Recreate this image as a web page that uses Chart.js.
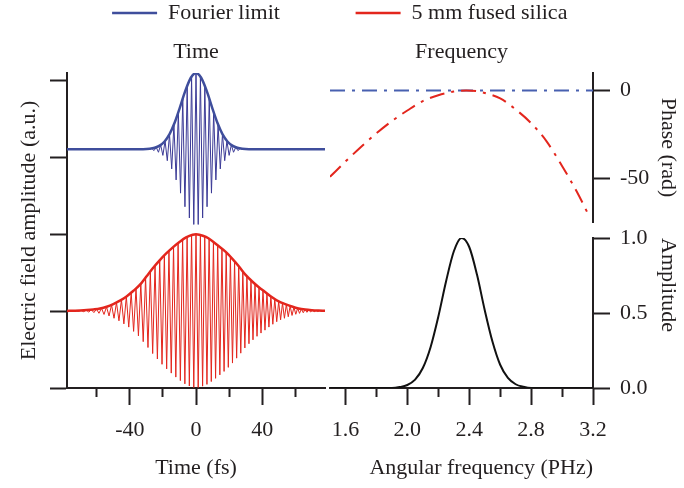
<!DOCTYPE html>
<html>
<head>
<meta charset="utf-8">
<script src="https://cdn.jsdelivr.net/npm/chart.js@4.4.0/dist/chart.umd.min.js"></script>
<style>
html, body { margin: 0; padding: 0; background: #ffffff; }
#wrap { position: relative; width: 684px; height: 488px; overflow: hidden; background: #ffffff; }
canvas { position: absolute; left: 0; top: 0; }
</style>
</head>
<body>
<div id="wrap">
  <canvas id="cTime" width="684" height="488"></canvas>
  <canvas id="cPhase" width="684" height="488"></canvas>
  <canvas id="cSpec" width="684" height="488"></canvas>
</div>
<script>
// ---------------- data ----------------
// tick values
const timeTicks = [-60, -40, -20, 0, 20, 40, 60];
const timeLabelTicks = [-40, 0, 40];
const leftTicks = [0, 1, 2, 3, 4];
const freqTicks = [1.6, 1.8, 2.0, 2.2, 2.4, 2.6, 2.8, 3.0, 3.2];
const freqLabelTicks = [1.6, 2.0, 2.4, 2.8, 3.2];
const phaseTicks = [-50, 0];
const specTicks = [0, 0.5, 1.0];

// Fourier-limited pulse: envelope (fs, a.u.)
const blueEnvT = [-78, -32, -28, -25, -22, -19, -16, -13, -10, -7, -4, -2, 0, 2, 4, 7, 10, 13, 16, 19, 22, 25, 28, 32, 78];
const blueEnvV = [0, 0.002, 0.007, 0.020, 0.048, 0.103, 0.200, 0.345, 0.533, 0.735, 0.904, 0.975, 1, 0.975, 0.904, 0.735, 0.533, 0.345, 0.200, 0.103, 0.048, 0.020, 0.007, 0.002, 0];
// Fourier-limited pulse: field half-cycle extremes
const blueFieldT = [-78, -28, -26.70, -25.37, -24.03, -22.70, -21.36, -20.03, -18.69, -17.36, -16.02, -14.69, -13.35, -12.02, -10.68, -9.35, -8.01, -6.68, -5.34, -4.01, -2.67, -1.34, 0, 1.34, 2.67, 4.01, 5.34, 6.68, 8.01, 9.35, 10.68, 12.02, 13.35, 14.69, 16.02, 17.36, 18.69, 20.03, 21.36, 22.70, 24.03, 25.37, 26.70, 28, 78];
const blueFieldV = [0, 0, 0.011, -0.017, 0.026, -0.039, 0.057, -0.080, 0.111, -0.150, 0.199, -0.258, 0.326, -0.403, 0.488, -0.577, 0.668, -0.756, 0.836, -0.904, 0.956, -0.989, 1, -0.989, 0.956, -0.904, 0.836, -0.756, 0.668, -0.577, 0.488, -0.403, 0.326, -0.258, 0.199, -0.150, 0.111, -0.080, 0.057, -0.039, 0.026, -0.017, 0.011, 0, 0];

// 5 mm fused silica pulse: envelope
const redEnvT = [-78, -74, -70, -66, -62, -58, -54, -50, -46, -42, -38, -34, -30, -26, -22, -18, -14, -10, -6, -2, 0, 2, 6, 10, 14, 18, 22, 26, 30, 34, 38, 42, 46, 50, 54, 58, 62, 66, 70, 74, 78];
const redEnvV = [0.0015, 0.004, 0.007, 0.012, 0.02, 0.032, 0.055, 0.09, 0.135, 0.19, 0.26, 0.34, 0.45, 0.56, 0.66, 0.75, 0.83, 0.90, 0.96, 0.995, 1.0, 0.995, 0.965, 0.91, 0.84, 0.77, 0.68, 0.58, 0.47, 0.385, 0.31, 0.245, 0.18, 0.125, 0.09, 0.058, 0.033, 0.019, 0.011, 0.006, 0.003];
// 5 mm fused silica pulse: chirped field half-cycle extremes
const redFieldT = [-78, -77.41, -75.82, -74.23, -72.65, -71.08, -69.51, -67.94, -66.38, -64.83, -63.28, -61.74, -60.20, -58.67, -57.14, -55.61, -54.10, -52.58, -51.07, -49.57, -48.07, -46.58, -45.09, -43.61, -42.13, -40.66, -39.19, -37.72, -36.27, -34.81, -33.36, -31.92, -30.48, -29.04, -27.61, -26.19, -24.77, -23.35, -21.94, -20.54, -19.14, -17.74, -16.35, -14.96, -13.58, -12.20, -10.82, -9.46, -8.09, -6.73, -5.38, -4.03, -2.68, -1.34, 0, 1.33, 2.66, 3.99, 5.30, 6.62, 7.93, 9.24, 10.54, 11.84, 13.13, 14.42, 15.70, 16.98, 18.26, 19.53, 20.80, 22.06, 23.32, 24.58, 25.83, 27.07, 28.32, 29.55, 30.79, 32.02, 33.24, 34.46, 35.68, 36.90, 38.11, 39.31, 40.51, 41.71, 42.90, 44.09, 45.28, 46.46, 47.64, 48.81, 49.98, 51.15, 52.31, 53.47, 54.62, 55.78, 56.92, 58.07, 59.20, 60.34, 61.47, 62.60, 63.73, 64.85, 65.96, 67.08, 68.19, 69.29, 70.40, 71.50, 72.59, 73.68, 74.77, 75.86, 76.94, 77.90, 78];
const redFieldV = [0, -0.002, 0.003, -0.004, 0.005, -0.006, 0.007, -0.009, 0.011, -0.014, 0.017, -0.021, 0.025, -0.030, 0.037, -0.045, 0.054, -0.065, 0.080, -0.095, 0.11, -0.128, 0.147, -0.168, 0.188, -0.21, 0.24, -0.266, 0.295, -0.324, 0.358, -0.40, 0.437, -0.476, 0.516, -0.555, 0.59, -0.626, 0.661, -0.695, 0.726, -0.755, 0.783, -0.81, 0.838, -0.862, 0.886, -0.908, 0.93, -0.95, 0.965, -0.978, 0.99, -0.997, 1.0, -0.997, 0.99, -0.98, 0.97, -0.957, 0.94, -0.92, 0.90, -0.878, 0.855, -0.833, 0.81, -0.788, 0.764, -0.735, 0.707, -0.679, 0.647, -0.615, 0.584, -0.55, 0.516, -0.482, 0.453, -0.427, 0.40, -0.376, 0.353, -0.33, 0.308, -0.288, 0.269, -0.25, 0.23, -0.21, 0.19, -0.173, 0.157, -0.14, 0.125, -0.115, 0.105, -0.095, 0.085, -0.075, 0.066, -0.058, 0.05, -0.043, 0.036, -0.031, 0.027, -0.023, 0.019, -0.017, 0.015, -0.012, 0.010, -0.009, 0.008, -0.007, 0.006, -0.005, 0.004, -0.003, 0];

// Spectral phase (rad) vs angular frequency (PHz)
const phaseFreqFL = [1.5, 3.2];
const phaseFL = [0, 0];
const phaseFreqFS = [1.5, 1.6, 1.7, 1.8, 1.9, 2.0, 2.1, 2.2, 2.3, 2.38, 2.45, 2.5, 2.6, 2.7, 2.8, 2.9, 3.0, 3.1, 3.18];
const phaseFS = [-49.2, -40.5, -32.2, -24.4, -17.4, -11.4, -6.0, -2.7, -0.6, 0, -0.4, -1.4, -4.5, -10.8, -18.6, -29.0, -43.0, -58.5, -72.5];

// Spectral amplitude
const specFreq = [1.5, 1.6, 1.7, 1.8, 1.9, 1.95, 2.0, 2.05, 2.1, 2.15, 2.2, 2.25, 2.3, 2.35, 2.4, 2.45, 2.5, 2.55, 2.6, 2.65, 2.7, 2.75, 2.8, 2.9, 3.0, 3.1, 3.2];
const specAmp = [0, 0, 0, 0, 0, 0.006, 0.02, 0.056, 0.133, 0.272, 0.475, 0.71, 0.91, 1.0, 0.94, 0.756, 0.52, 0.31, 0.155, 0.067, 0.025, 0.008, 0, 0, 0, 0, 0];

// ---------------- styling ----------------
const INK = '#231f20';
const BLUE = '#3b3a96';
const BLUE_ENV = '#3f4e9c';
const RED = '#e3261d';
const PHASE_BLUE = '#4860b0';
const DASHDOT = [15, 7, 3, 7];

Chart.defaults.font.family = '"Liberation Serif", "DejaVu Serif", serif';
Chart.defaults.font.size = 22;
Chart.defaults.color = INK;
Chart.defaults.animation = false;

function pts(xs, ys) {
  const n = Math.min(xs.length, ys.length);
  const out = [];
  for (let i = 0; i < n; i++) out.push({x: xs[i], y: ys[i]});
  return out;
}
function setTicks(values) { return scale => { scale.ticks = values.map(v => ({value: v})); }; }
function isIn(list, v) { return list.some(u => Math.abs(u - v) < 1e-6); }
const border = {display: true, color: INK, width: 2};
function gridOpts(majorList) {
  return {
    display: true, drawOnChartArea: false, drawTicks: true,
    tickLength: 17, tickWidth: 2, tickColor: INK,
    tickBorderDash: majorList
      ? (ctx => (ctx.tick && isIn(majorList, ctx.tick.value)) ? [] : [8, 60])
      : []
  };
}
function legendOpts() {
  return {
    display: true, position: 'top', fullSize: false, weight: 3000,
    labels: {
      usePointStyle: true, pointStyle: 'line', pointStyleWidth: 45, padding: 2,
      font: {size: 22}, color: INK,
      generateLabels: chart => Chart.defaults.plugins.legend.labels.generateLabels(chart)
        .filter(it => it.datasetIndex === 0)
        .map(it => Object.assign(it, {lineWidth: 2.5, lineDash: [], pointStyle: 'line'}))
    }
  };
}
function titleOpts(text) {
  return {display: true, text, position: 'top', fullSize: false, color: INK,
          font: {size: 22, weight: 'normal'}, padding: {top: 5, bottom: 7.6}};
}

// ---------------- left: time domain ----------------
new Chart(document.getElementById('cTime'), {
  type: 'line',
  data: {datasets: [
    {label: 'Fourier limit', data: pts(blueEnvT, blueEnvV), yAxisID: 'yBlue', borderColor: BLUE_ENV, borderWidth: 2.5, cubicInterpolationMode: 'monotone'},
    {label: '5 mm fused silica', data: pts(redEnvT, redEnvV), yAxisID: 'yRed', borderColor: RED, borderWidth: 2.5, cubicInterpolationMode: 'monotone'},
    {label: 'Fourier limit field', data: pts(blueFieldT, blueFieldV), yAxisID: 'yBlue', borderColor: BLUE, borderWidth: 1, tension: 0},
    {label: '5 mm fused silica field', data: pts(redFieldT, redFieldV), yAxisID: 'yRed', borderColor: RED, borderWidth: 1, tension: 0}
  ]},
  options: {
    responsive: false, animation: false,
    layout: {padding: {left: 0, right: 359, top: 0, bottom: 0}},
    elements: {point: {radius: 0}, line: {fill: false}},
    plugins: {legend: legendOpts(), title: titleOpts('Time'), tooltip: {enabled: false}},
    scales: {
      x: {type: 'linear', position: 'bottom', min: -78, max: 78,
          afterBuildTicks: setTicks(timeTicks), afterFit: s => { s.height = 100; },
          border, grid: gridOpts(timeLabelTicks),
          ticks: {padding: 12, autoSkip: false, maxRotation: 0, color: INK,
                  callback: v => isIn(timeLabelTicks, v) ? String(v) : ''},
          title: {display: true, text: 'Time (fs)', color: INK, padding: {top: 0, bottom: 7}}},
      y: {type: 'linear', position: 'left', min: 0, max: 4.091,
          afterBuildTicks: setTicks(leftTicks), afterFit: s => { s.width = 67; },
          border, grid: gridOpts(null), ticks: {display: false},
          title: {display: true, text: 'Electric field amplitude (a.u.)', color: INK, padding: {top: 16, bottom: 0}}},
      yBlue: {type: 'linear', display: false, min: -3.141, max: 1.004},
      yRed: {type: 'linear', display: false, min: -1.004, max: 3.103}
    }
  }
});

// ---------------- right top: spectral phase ----------------
new Chart(document.getElementById('cPhase'), {
  type: 'line',
  data: {datasets: [
    {label: '5 mm fused silica', data: pts(phaseFreqFS, phaseFS), borderColor: RED, borderWidth: 2, borderDash: DASHDOT, cubicInterpolationMode: 'monotone'},
    {label: 'Fourier limit', data: pts(phaseFreqFL, phaseFL), borderColor: PHASE_BLUE, borderWidth: 2, borderDash: DASHDOT}
  ]},
  options: {
    responsive: false, animation: false,
    layout: {padding: {left: 330, right: 0, top: 0, bottom: 266}},
    elements: {point: {radius: 0}, line: {fill: false}},
    plugins: {legend: legendOpts(), title: titleOpts('Frequency'), tooltip: {enabled: false}},
    scales: {
      x: {type: 'linear', display: false, min: 1.5, max: 3.2},
      y: {type: 'linear', position: 'right', min: -75, max: 10,
          afterBuildTicks: setTicks(phaseTicks), afterFit: s => { s.width = 91; },
          border, grid: gridOpts(null),
          ticks: {padding: 10, color: INK, callback: v => String(v)},
          title: {display: true, text: 'Phase (rad)', color: INK, padding: {top: 3, bottom: 0}}}
    }
  }
});

// ---------------- right bottom: spectral amplitude ----------------
new Chart(document.getElementById('cSpec'), {
  type: 'line',
  data: {datasets: [
    {label: 'Spectrum', data: pts(specFreq, specAmp), borderColor: '#111111', borderWidth: 2, cubicInterpolationMode: 'monotone'}
  ]},
  options: {
    responsive: false, animation: false,
    layout: {padding: {left: 330, right: 0, top: 238, bottom: 0}},
    elements: {point: {radius: 0}, line: {fill: false}},
    plugins: {legend: {display: false}, title: {display: false}, tooltip: {enabled: false}},
    scales: {
      x: {type: 'linear', position: 'bottom', min: 1.5, max: 3.2,
          afterBuildTicks: setTicks(freqTicks), afterFit: s => { s.height = 100; },
          border, grid: gridOpts(freqLabelTicks),
          ticks: {padding: 12, autoSkip: false, maxRotation: 0, color: INK,
                  callback: v => isIn(freqLabelTicks, v) ? v.toFixed(1) : ''},
          title: {display: true, text: 'Angular frequency (PHz)', align: 'end', color: INK, padding: {top: 0, bottom: 7}}},
      y: {type: 'linear', position: 'right', min: 0, max: 1,
          afterBuildTicks: setTicks(specTicks), afterFit: s => { s.width = 91; },
          border, grid: gridOpts(null),
          ticks: {padding: 10, color: INK, callback: v => v.toFixed(1)},
          title: {display: true, text: 'Amplitude', align: 'end', color: INK, padding: {top: 3, bottom: 0}}}
    }
  }
});
</script>
</body>
</html>
